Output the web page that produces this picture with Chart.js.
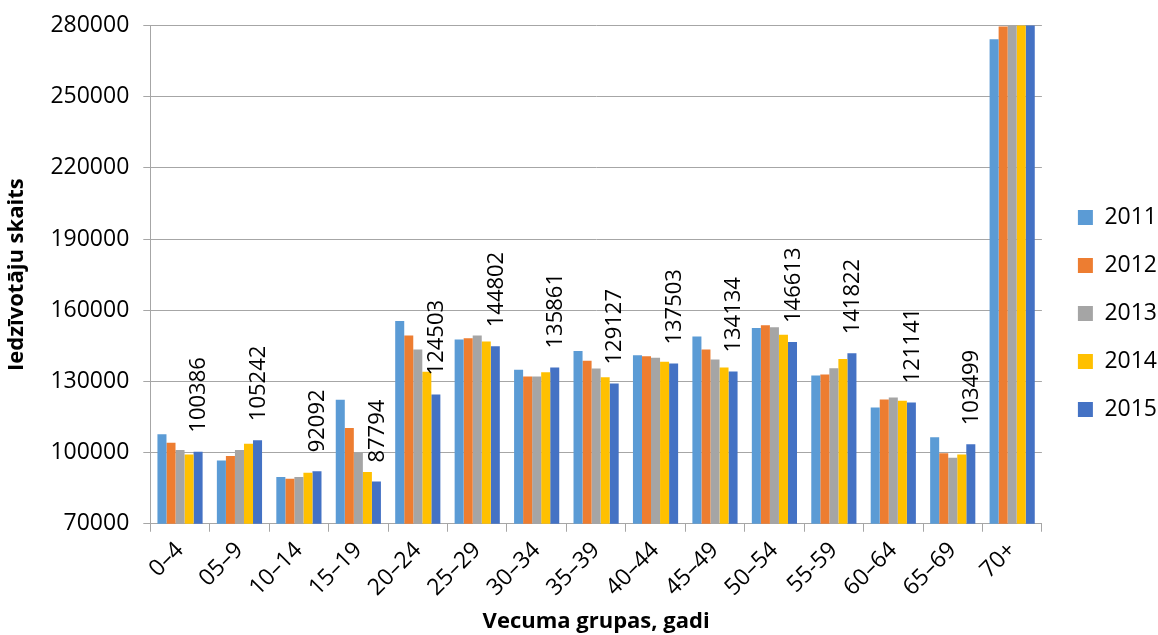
<!DOCTYPE html>
<html lang="lv">
<head>
<meta charset="utf-8">
<title>Iedzīvotāju skaits pa vecuma grupām</title>
<script src="https://cdn.jsdelivr.net/npm/chart.js@4/dist/chart.umd.min.js"></script>
<style>
  html, body { margin: 0; padding: 0; background: #fff; }
  #wrap { width: 1158px; height: 635px; position: relative; }
</style>
</head>
<body>
<div id="wrap"><canvas id="chart"></canvas></div>
<script>
// Age groups on the x axis
const ageGroups = ['0–4', '05–9', '10–14', '15–19', '20–24', '25–29', '30–34', '35–39',
  '40–44', '45–49', '50–54', '55-59', '60–64', '65–69', '70+'];

// Population per age group, one array per year
const pop2011 = [107700, 96700, 89700, 122300, 155500, 147700, 134900, 142800, 141000, 148900, 152500, 132500, 119000, 106500, 274200];
const pop2012 = [104100, 98600, 89000, 110400, 149300, 148200, 132100, 138700, 140600, 143400, 153700, 132950, 122400, 99700, 279600];
const pop2013 = [101100, 101100, 89700, 100000, 143400, 149300, 132100, 135400, 140000, 139200, 152800, 135500, 123200, 97800, 282000];
const pop2014 = [99150, 103700, 91500, 91800, 134100, 146800, 133900, 131800, 138300, 135900, 149700, 139400, 121800, 99150, 284000];
const pop2015 = [100386, 105242, 92092, 87794, 124503, 144802, 135861, 129127, 137503, 134134, 146613, 141822, 121141, 103499, 286000];

const years = ['2011', '2012', '2013', '2014', '2015'];
const yearColors = ['#5B9BD5', '#ED7D31', '#A5A5A5', '#FFC000', '#4472C4'];

// Value axis tick labels
const yTicks = [70000, 100000, 130000, 160000, 190000, 220000, 250000, 280000];

const FONT = "'Open Sans', 'DejaVu Sans', sans-serif";
const LABELLED_SERIES = 4; // values are written above the 2015 bars

// Writes the 2015 values vertically above their bars
const valueLabels = {
  id: 'valueLabels',
  afterDatasetsDraw(chart) {
    const ctx = chart.ctx;
    const meta = chart.getDatasetMeta(LABELLED_SERIES);
    const values = chart.data.datasets[LABELLED_SERIES].data;
    const yScale = chart.scales.y;
    ctx.save();
    ctx.font = '22px ' + FONT;
    ctx.fillStyle = '#000';
    ctx.textAlign = 'left';
    ctx.textBaseline = 'middle';
    meta.data.forEach((bar, i) => {
      const v = values[i];
      if (v > yScale.max) return;
      ctx.save();
      ctx.translate(bar.x + 1, bar.y - 19);
      ctx.rotate(-Math.PI / 2);
      ctx.fillText(String(v), 0, 0);
      ctx.restore();
    });
    ctx.restore();
  }
};

// Nudges the legend block a little right and up from its default slot
const legendNudge = {
  id: 'legendNudge',
  afterLayout(chart) {
    const lg = chart.legend;
    if (!lg) return;
    lg.left += 11;
    lg.right += 11;
    lg.top -= 8;
    lg.bottom -= 8;
  }
};

const series = [pop2011, pop2012, pop2013, pop2014, pop2015];

new Chart(document.getElementById('chart'), {
  type: 'bar',
  data: {
    labels: ageGroups,
    datasets: series.map((values, i) => ({
      label: years[i],
      data: values,
      backgroundColor: yearColors[i],
      borderWidth: 0,
      barPercentage: 1.0,
      categoryPercentage: 0.76
    }))
  },
  options: {
    responsive: true,
    maintainAspectRatio: false,
    animation: false,
    layout: { padding: { top: 8, right: 2, left: 4, bottom: 0 } },
    plugins: {
      tooltip: { enabled: false },
      legend: {
        position: 'right',
        labels: {
          boxWidth: 15,
          boxHeight: 15,
          padding: 25,
          color: '#000',
          font: { family: FONT, size: 23 }
        }
      }
    },
    scales: {
      x: {
        grid: {
          display: true,
          drawOnChartArea: false,
          drawTicks: true,
          tickLength: 8,
          color: '#A6A6A6',
          offset: true
        },
        border: { color: '#A6A6A6', width: 1 },
        ticks: {
          color: '#000',
          font: { family: FONT, size: 23 },
          minRotation: 45,
          maxRotation: 45,
          autoSkip: false,
          padding: 5
        },
        title: {
          display: true,
          text: 'Vecuma grupas, gadi',
          color: '#000',
          font: { family: FONT, size: 22, weight: 'bold' },
          padding: { top: 2, bottom: 0 }
        }
      },
      y: {
        min: yTicks[0],
        max: yTicks[yTicks.length - 1],
        afterBuildTicks(scale) {
          scale.ticks = yTicks.map(v => ({ value: v }));
        },
        grid: {
          color: '#A6A6A6',
          tickLength: 7
        },
        border: { color: '#A6A6A6', width: 1 },
        ticks: {
          color: '#000',
          font: { family: FONT, size: 23, lineHeight: 1.0 },
          padding: 14,
          callback: v => String(v)
        },
        title: {
          display: true,
          text: 'Iedzīvotāju skaits',
          color: '#000',
          font: { family: FONT, size: 22, weight: 'bold' },
          padding: { top: 0, bottom: 6 }
        }
      }
    }
  },
  plugins: [valueLabels, legendNudge]
});
</script>
</body>
</html>
